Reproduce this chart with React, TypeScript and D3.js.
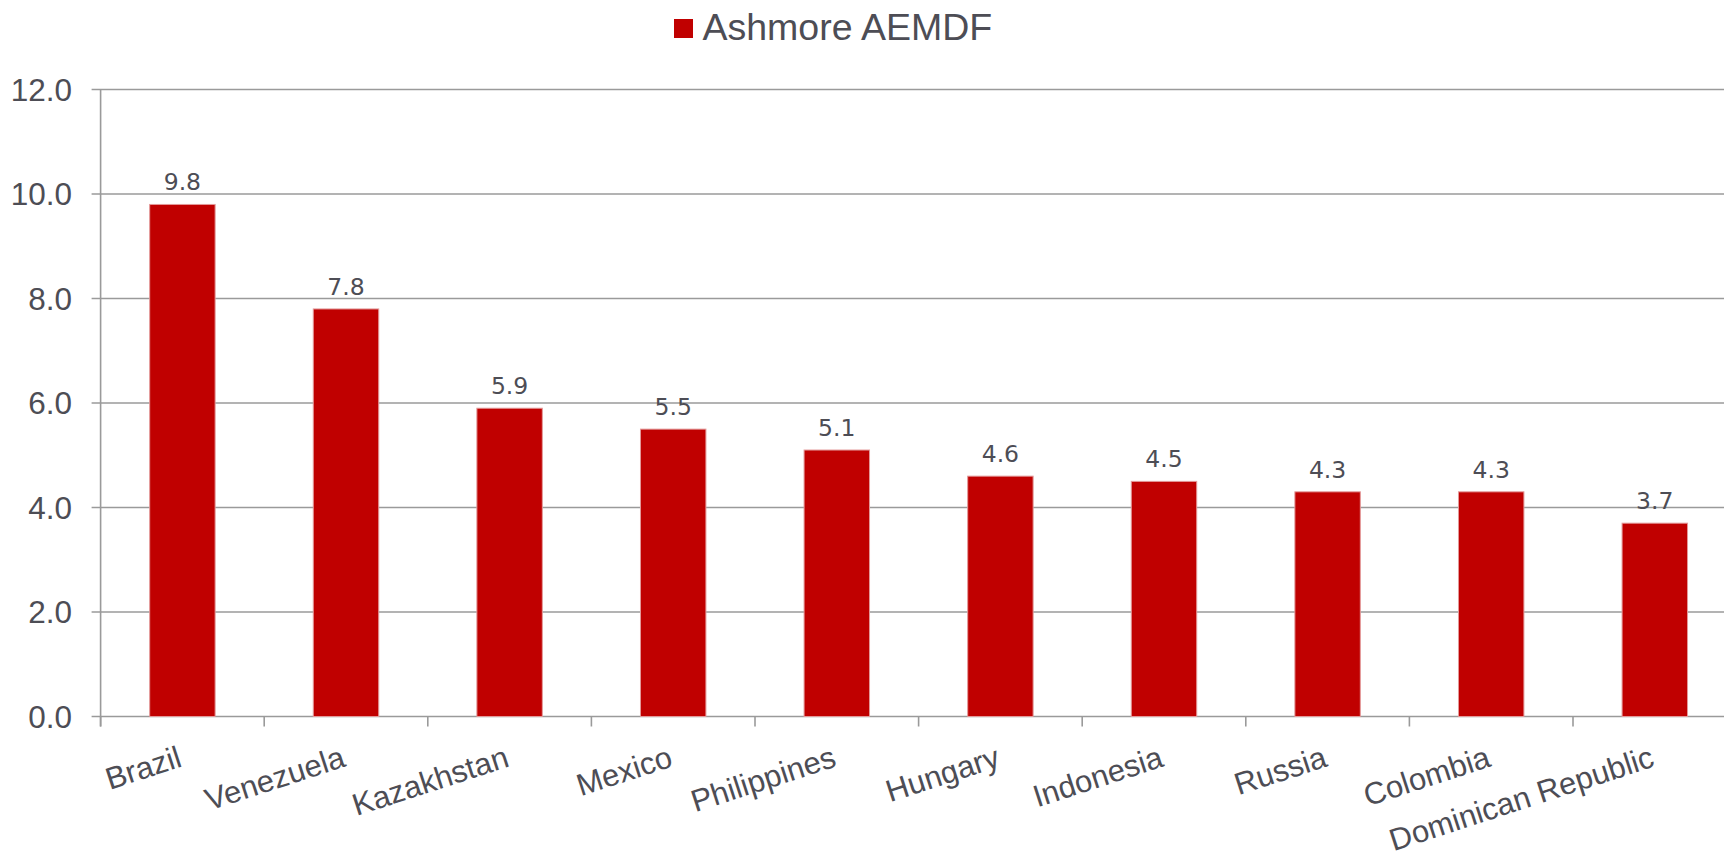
import React from "react";
import * as d3 from "d3";

const categories = [
  "Brazil",
  "Venezuela",
  "Kazakhstan",
  "Mexico",
  "Philippines",
  "Hungary",
  "Indonesia",
  "Russia",
  "Colombia",
  "Dominican Republic",
];
const values = [9.8, 7.8, 5.9, 5.5, 5.1, 4.6, 4.5, 4.3, 4.3, 3.7];
const yTicks = [0, 2, 4, 6, 8, 10, 12];
const seriesName = "Ashmore AEMDF";

const W = 1724;
const H = 859;
const left = 100.6;
const right = 1736.6;
const top = 89.5;
const bottom = 716.5;
const barColor = "#C00000";
const textColor = "#4d4d55";
const gridColor = "#9a9a9a";

export default function App() {
  const x = d3
    .scaleBand<string>()
    .domain(categories)
    .range([left, right])
    .paddingInner(0.6)
    .paddingOuter(0.3);
  const y = d3.scaleLinear().domain([0, 12]).range([bottom, top]);
  const step = x.step();
  const boundaries = d3.range(categories.length + 1).map((i) => left + i * step);

  return (
    <svg
      width={W}
      height={H}
      style={{ position: "absolute", left: 0, top: 0, display: "block", background: "#fff" }}
    >
      {/* legend */}
      <rect x={674} y={19} width={19} height={19} fill={barColor} />
      <text
        x={702.5}
        y={39.5}
        fontFamily="Liberation Sans, Arial, sans-serif"
        fontSize={37.5}
        fill={textColor}
      >
        {seriesName}
      </text>

      {/* gridlines + y ticks */}
      {yTicks.map((t) => (
        <g key={t}>
          <line
            x1={left - 9}
            x2={W}
            y1={y(t)}
            y2={y(t)}
            stroke={gridColor}
            strokeWidth={1.6}
          />
          <text
            x={72}
            y={y(t)}
            dy="0.36em"
            textAnchor="end"
            fontFamily="Liberation Sans, Arial, sans-serif"
            fontSize={31.5}
            fill={textColor}
          >
            {t.toFixed(1)}
          </text>
        </g>
      ))}

      {/* y axis line */}
      <line x1={left} x2={left} y1={top} y2={bottom + 10} stroke={gridColor} strokeWidth={1.6} />

      {/* x ticks */}
      {boundaries.map((b, i) => (
        <line
          key={i}
          x1={b}
          x2={b}
          y1={bottom}
          y2={bottom + 10}
          stroke={gridColor}
          strokeWidth={1.6}
        />
      ))}

      {/* bars */}
      {categories.map((c, i) => (
        <rect
          key={c}
          x={x(c)}
          y={y(values[i])}
          width={x.bandwidth()}
          height={y(0) - y(values[i])}
          fill={barColor}
          stroke="#e39a9a"
          strokeWidth={1}
        />
      ))}

      {/* value labels */}
      {categories.map((c, i) => (
        <text
          key={c}
          x={(x(c) as number) + x.bandwidth() / 2}
          y={y(values[i]) - 14}
          textAnchor="middle"
          fontFamily="DejaVu Sans, Verdana, sans-serif"
          fontSize={23.5}
          fill={textColor}
        >
          {values[i].toFixed(1)}
        </text>
      ))}

      {/* x category labels */}
      {categories.map((c) => {
        const cx = (x(c) as number) + x.bandwidth() / 2 + 1;
        const cy = 766;
        return (
          <text
            key={c}
            x={cx}
            y={cy}
            textAnchor="end"
            transform={`rotate(-18 ${cx} ${cy})`}
            fontFamily="Liberation Sans, Arial, sans-serif"
            fontSize={31}
            fill={textColor}
          >
            {c}
          </text>
        );
      })}
    </svg>
  );
}
